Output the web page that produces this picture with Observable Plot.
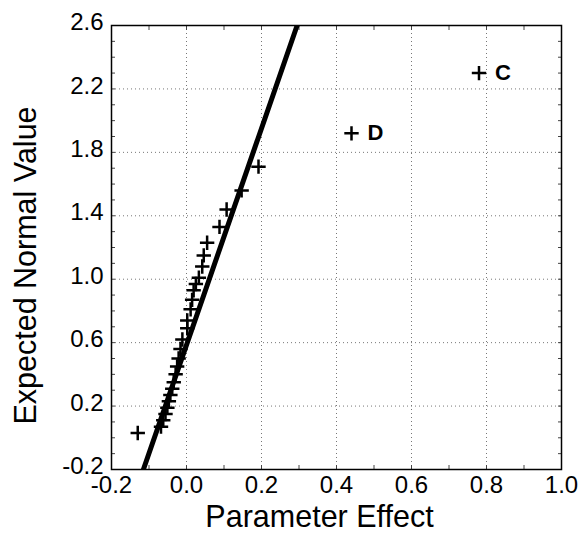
<!DOCTYPE html>
<html>
<head>
<meta charset="utf-8">
<script src="https://cdn.jsdelivr.net/npm/d3@7"></script>
<script src="https://cdn.jsdelivr.net/npm/@observablehq/plot@0.6"></script>
<style>
  html, body { margin: 0; padding: 0; background: #fff; }
  #chart svg { display: block; }
</style>
</head>
<body>
<div id="chart"></div>
<script>
// Parameter effects (x) and their expected normal values (y)
const effects = [-0.13, -0.068, -0.062, -0.056, -0.051, -0.047, -0.043, -0.038, -0.034, -0.029,
  -0.025, -0.021, -0.016, -0.011, 0.002, 0.002, 0.011, 0.015, 0.019, 0.025,
  0.033, 0.042, 0.046, 0.055, 0.088, 0.107, 0.147, 0.192, 0.44, 0.78];
const normalValues = [0.03, 0.07, 0.11, 0.15, 0.19, 0.23, 0.27, 0.31, 0.35, 0.40,
  0.45, 0.50, 0.56, 0.62, 0.69, 0.74, 0.81, 0.87, 0.93, 0.97,
  1.01, 1.08, 1.15, 1.23, 1.33, 1.44, 1.56, 1.71, 1.92, 2.30];
const pointLabels = ["", "", "", "", "", "", "", "", "", "",
  "", "", "", "", "", "", "", "", "", "",
  "", "", "", "", "", "", "", "", "D", "C"];

// Reference line (two end points)
const fitEffects = [-0.115, 0.295];
const fitValues = [-0.2, 2.6];

const xTicks = [-0.2, 0.0, 0.2, 0.4, 0.6, 0.8, 1.0];
const yTicks = [-0.2, 0.2, 0.6, 1.0, 1.4, 1.8, 2.2, 2.6];
const xGrid = [0.0, 0.2, 0.4, 0.6, 0.8];
const yGrid = [0.2, 0.6, 1.0, 1.4, 1.8, 2.2];
const yMinor = d3.range(-2, 27).map(d => d / 10);
const xMinor = d3.range(-2, 11).map(d => d / 10);

const xTitle = "Parameter Effect";
const yTitle = "Expected Normal Value";

const points = effects.map((x, i) => ({x, y: normalValues[i], label: pointLabels[i]}));
const fit = fitEffects.map((x, i) => ({x, y: fitValues[i]}));

const chart = Plot.plot({
  width: 584,
  height: 542,
  marginLeft: 111,
  marginRight: 23,
  marginTop: 25,
  marginBottom: 73,
  style: {fontFamily: "'Liberation Sans', Arial, sans-serif", background: "#fff", color: "#000"},
  x: {domain: [-0.2, 1.0]},
  y: {domain: [-0.2, 2.6]},
  marks: [
    Plot.gridX(xGrid, {stroke: "#777", strokeOpacity: 1, strokeDasharray: "1,3", strokeWidth: 1}),
    Plot.gridY(yGrid, {stroke: "#777", strokeOpacity: 1, strokeDasharray: "1,3", strokeWidth: 1}),
    Plot.axisY(yMinor, {anchor: "left", tickSize: -4, text: null, label: null, stroke: "#444"}),
    Plot.axisY(yMinor, {anchor: "right", tickSize: -4, text: null, label: null, stroke: "#444"}),
    Plot.axisX(xMinor, {anchor: "bottom", tickSize: -4, text: null, label: null, stroke: "#444"}),
    Plot.axisX(xMinor, {anchor: "top", tickSize: -4, text: null, label: null, stroke: "#444"}),
    Plot.axisX(xTicks, {anchor: "bottom", tickSize: 0, tickPadding: 6, fontSize: 24, label: null,
      tickFormat: d => d.toFixed(1)}),
    Plot.axisY(yTicks, {anchor: "left", tickSize: 0, tickPadding: 8, dy: -3, fontSize: 24, label: null,
      tickFormat: d => d.toFixed(1)}),
    Plot.line(fit, {x: "x", y: "y", stroke: "black", strokeWidth: 5, clip: true}),
    Plot.dot(points, {x: "x", y: "y", symbol: "plus", r: 4.7, stroke: "black", strokeWidth: 2.5}),
    Plot.text(points.filter(d => d.label), {x: "x", y: "y", text: "label", dx: 16, textAnchor: "start",
      fontSize: 22, fontWeight: "bold", fill: "black"}),
    Plot.frame({stroke: "black", strokeWidth: 1.5}),
    Plot.text([xTitle], {frameAnchor: "bottom", dx: -17, dy: 57, fontSize: 30.5, fill: "black"}),
    Plot.text([yTitle], {frameAnchor: "left", textAnchor: "middle", dx: -85, dy: 18, rotate: -90,
      fontSize: 30.5, fill: "black"})
  ]
});
document.getElementById("chart").appendChild(chart);
</script>
</body>
</html>
